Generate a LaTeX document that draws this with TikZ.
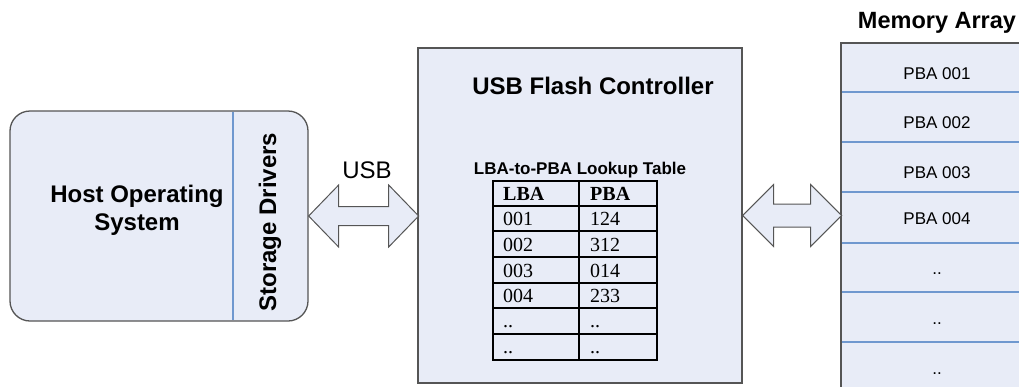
\documentclass[tikz,border=0pt]{standalone}
\usepackage{fontspec}
\setmainfont{Liberation Sans}
\newfontfamily\seriffont{Liberation Serif}
\definecolor{boxfill}{HTML}{E8ECF7}
\definecolor{boxline}{HTML}{555555}
\definecolor{divline}{HTML}{6F98CF}
\tikzset{
  blockbox/.style={draw=boxline, fill=boxfill, line width=1.3pt, inner sep=0pt},
  arrowshape/.style={draw=boxline, fill=boxfill, line width=1pt, line join=miter},
  divider/.style={draw=divline, line width=1.3pt},
  tablegrid/.style={draw=black, line width=1.8pt},
  bigbold/.style={font=\fontsize{24}{28}\selectfont\bfseries, align=center, inner sep=0pt},
  cell/.style={font=\seriffont\fontsize{20}{24}\selectfont, anchor=base west, inner sep=0pt},
  memtext/.style={font=\fontsize{17}{20}\selectfont, anchor=base, inner sep=0pt}
}
\begin{document}
\begin{tikzpicture}[x=1pt,y=-1pt]
\useasboundingbox (0,0) rectangle (1019,386);

% Host
\node[blockbox, rounded corners=20pt, minimum width=298pt, minimum height=210pt] (host) at (159,216) {};
\draw[divider] (233,111.7) -- (233,320.3);
\node[bigbold] (hosttext) at (137,210) {Host Operating\\System};
\node[bigbold, rotate=90] (drivers) at (270,222) {Storage Drivers};

% Controller
\node[blockbox, minimum width=324pt, minimum height=335pt] (ctrl) at (580,215.5) {};
\node[bigbold] (ctrltitle) at (593,86) {USB Flash Controller};
\node[font=\fontsize{17}{20}\selectfont\bfseries, inner sep=0pt] (tabtitle) at (580,170) {LBA-to-PBA Lookup Table};

% Table
\draw[tablegrid] (493,181) rectangle (657,360);
\draw[tablegrid] (579,181) -- (579,360);
\foreach \yy in {206,231,257,283,308,334} {\draw[tablegrid] (493,\yy) -- (657,\yy);}
\node[cell, font=\seriffont\fontsize{20}{24}\selectfont\bfseries] (hl) at (503,200.5) {LBA};
\node[cell, font=\seriffont\fontsize{20}{24}\selectfont\bfseries] (hp) at (590,200.5) {PBA};
\node[cell] (l1) at (503,225.5) {001};
\node[cell] (p1) at (590,225.5) {124};
\node[cell] (l2) at (503,251) {002};
\node[cell] (p2) at (590,251) {312};
\node[cell] (l3) at (503,277) {003};
\node[cell] (p3) at (590,277) {014};
\node[cell] (l4) at (503,302.5) {004};
\node[cell] (p4) at (590,302.5) {233};
\node[cell] (l5) at (503,327.5) {..};
\node[cell] (p5) at (590,327.5) {..};
\node[cell] (l6) at (503,353.5) {..};
\node[cell] (p6) at (590,353.5) {..};

% Memory array
\node[font=\fontsize{23.5}{28}\selectfont\bfseries, inner sep=0pt] (memtitle) at (937,23) {Memory Array};
\node[blockbox, minimum width=189pt, minimum height=357pt] (mem) at (935.5,221.5) {};
\foreach \yy in {92,142,192,243,292,342} {\draw[divider] (841.6,\yy) -- (1030,\yy);}
\node[memtext] (m1) at (937,79) {PBA 001};
\node[memtext] (m2) at (937,128) {PBA 002};
\node[memtext] (m3) at (937,178) {PBA 003};
\node[memtext] (m4) at (937,224) {PBA 004};
\node[memtext] (m5) at (937,274) {..};
\node[memtext] (m6) at (937,324) {..};
\node[memtext] (m7) at (937,374) {..};

% USB label
\node[font=\fontsize{24}{28}\selectfont, inner sep=0pt] (usb) at (367,170) {USB};

% Double arrows
\draw[arrowshape] (host.east) -- ++(30,-31) -- ++(0,21.5) -- ++(50,0) -- ++(0,-21.5) -- ++(30,31) -- ++(-30,31) -- ++(0,-21.5) -- ++(-50,0) -- ++(0,21.5) -- cycle;
\draw[arrowshape] (ctrl.east) -- ++(31,-31) -- ++(0,19.5) -- ++(37,0) -- ++(0,-19.5) -- ++(31,31) -- ++(-31,31) -- ++(0,-19.5) -- ++(-37,0) -- ++(0,19.5) -- cycle;
\end{tikzpicture}
\end{document}
